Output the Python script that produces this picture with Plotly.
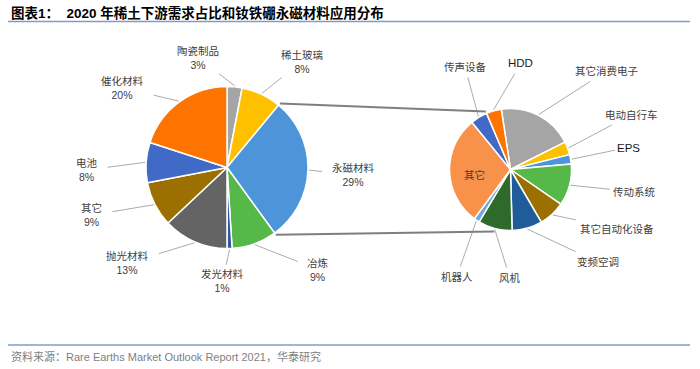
import math
import plotly.graph_objects as go

W, H = 700, 369

# ---------------- data ----------------
left_labels = ["陶瓷制品", "稀土玻璃", "永磁材料", "冶炼", "发光材料",
               "抛光材料", "其它", "电池", "催化材料"]
left_values = [3, 8, 29, 9, 1, 13, 9, 8, 20]

right_labels = ["其它消费电子", "电动自行车", "EPS", "传动系统", "其它自动化设备",
                "变频空调", "风机", "机器人", "其它", "传声设备", "HDD"]
right_values = [20, 3.5, 2.5, 11, 7, 8, 9, 1.5, 29, 4.5, 4]

title_text = "图表1：  2020 年稀土下游需求占比和钕铁硼永磁材料应用分布"
source_text = "资料来源：Rare Earths Market Outlook Report 2021，华泰研究"

# ---------------- style ----------------
left_colors = ["#A5A5A5", "#FFC000", "#4D94D8", "#55B848", "#2F55A0",
               "#646464", "#9C7000", "#4169C6", "#FF7300"]
right_colors = ["#A5A5A5", "#FFC000", "#4D94D8", "#55B848", "#9C7000",
                "#1F5C99", "#2E6B2B", "#6FA8DC", "#F8914A", "#4169C6", "#FF7300"]

FONT = "Liberation Sans, Arial, Noto Sans CJK SC, sans-serif"
LABEL_COLOR = "#404040"
LEADER_COLOR = "#ABABAB"
RULE_COLOR = "#7F9CC9"

left_geom = dict(cx=227, cy=167.5, r=81, rotation=0)
right_geom = dict(cx=510.5, cy=169.5, r=61, rotation=-8.7)

# label placement (angle shift from slice middle in degrees, distance in radii)
left_label_shift = [-20, 10, 1.6, -22, 4, 22.6, 7.6, -4.6, -16.6]
left_label_dist = [1.40, 1.60, 1.56, 1.69, 1.40, 1.70, 1.77, 1.73, 1.62]
right_label_shift = [17, -4, -1, -4.5, -18, -27.5, -14.4, -7, -7, 7.3, 21.5]
right_label_dist = [2.26, 2.18, 1.96, 2.07, 1.99, 2.09, 1.78, 1.97, 0.6, 1.84, 1.75]
right_inside = [False] * 8 + [True] + [False] * 2

FS = 10.5


def px(x):
    return x / W


def py(y):
    return 1 - y / H


def polar(g, ang, dist):
    a = math.radians(ang)
    return g["cx"] + dist * math.sin(a), g["cy"] - dist * math.cos(a)


def mid_angles(values, rot):
    tot = sum(values)
    out, cum = [], 0
    for v in values:
        out.append(rot + (cum + v / 2) / tot * 360)
        cum += v
    return out


def bound_angles(values, rot):
    tot = sum(values)
    out, cum = [rot], 0
    for v in values:
        cum += v
        out.append(rot + cum / tot * 360)
    return out


def text_w(s, fs):
    return sum(fs if ord(c) > 255 else 0.58 * fs for c in s)


fig = go.Figure()


def add_pie(g, labels, values, colors):
    r = g["r"]
    fig.add_trace(go.Pie(
        labels=labels, values=values, sort=False, direction="clockwise",
        rotation=g["rotation"], textinfo="none", hoverinfo="label+percent",
        marker=dict(colors=colors, line=dict(color="white", width=1.5)),
        domain=dict(x=[px(g["cx"] - r), px(g["cx"] + r)],
                    y=[py(g["cy"] + r), py(g["cy"] - r)]),
        showlegend=False,
    ))


add_pie(left_geom, left_labels, left_values, left_colors)
add_pie(right_geom, right_labels, right_values, right_colors)

shapes = []
annotations = []


def leader(g, ang, lx, ly, w, h, padx=6, pady=4):
    x0, y0 = polar(g, ang, g["r"] + 1)
    dx, dy = x0 - lx, y0 - ly
    hw, hh = w / 2 + padx, h / 2 + pady
    ts = []
    if abs(dx) > 1e-6:
        ts.append(hw / abs(dx))
    if abs(dy) > 1e-6:
        ts.append(hh / abs(dy))
    t = min(ts)
    if t >= 1:
        return
    x1, y1 = lx + t * dx, ly + t * dy
    shapes.append(dict(type="line", xref="paper", yref="paper",
                       x0=px(x0), y0=py(y0), x1=px(x1), y1=py(y1),
                       line=dict(color=LEADER_COLOR, width=1)))


# left labels
for lab, val, ang, sh, d in zip(left_labels, left_values,
                                mid_angles(left_values, left_geom["rotation"]),
                                left_label_shift, left_label_dist):
    lx, ly = polar(left_geom, ang + sh, left_geom["r"] * d)
    txt = f"{lab}<br>{val}%"
    w = max(text_w(lab, FS), text_w(f"{val}%", 11))
    h = 2 * 13
    annotations.append(dict(x=px(lx), y=py(ly), xref="paper", yref="paper",
                            text=txt, showarrow=False, xanchor="center", yanchor="middle",
                            font=dict(family=FONT, size=FS, color=LABEL_COLOR)))
    leader(left_geom, ang, lx, ly, w, h, padx=10, pady=3)

# right labels
for lab, ang, sh, d, ins in zip(right_labels,
                                mid_angles(right_values, right_geom["rotation"]),
                                right_label_shift, right_label_dist, right_inside):
    lx, ly = polar(right_geom, ang + sh, right_geom["r"] * d)
    ascii_lab = all(ord(c) < 256 for c in lab)
    annotations.append(dict(x=px(lx), y=py(ly), xref="paper", yref="paper",
                            text=lab, showarrow=False, xanchor="center", yanchor="middle",
                            font=dict(family=FONT, size=11.5 if ascii_lab else FS,
                                      color="#1A1A1A" if ascii_lab else LABEL_COLOR)))
    if not ins:
        leader(right_geom, ang, lx, ly, text_w(lab, FS), 13, padx=4, pady=4)

# connector lines between the two pies
lb = bound_angles(left_values, left_geom["rotation"])
mag = left_labels.index("永磁材料")
rb = bound_angles(right_values, right_geom["rotation"])
top_right_ang = rb[right_labels.index("HDD")]
bot_right_ang = mid_angles(right_values, right_geom["rotation"])[right_labels.index("风机")]
for la, ra, rr in ((lb[mag], top_right_ang, 2), (lb[mag + 1], bot_right_ang, 3)):
    x0, y0 = polar(left_geom, la, left_geom["r"] + 2)
    x1, y1 = polar(right_geom, ra, right_geom["r"] + rr)
    shapes.append(dict(type="line", xref="paper", yref="paper",
                       x0=px(x0), y0=py(y0), x1=px(x1), y1=py(y1),
                       line=dict(color="#7F7F7F", width=2)))

# title, rules and source
annotations.append(dict(x=px(9), y=py(12.5), xref="paper", yref="paper",
                        text=f"<b>{title_text}</b>", showarrow=False,
                        xanchor="left", yanchor="middle",
                        font=dict(family="Liberation Sans, Noto Sans CJK SC, sans-serif",
                                  size=13.5, color="#000000")))
annotations.append(dict(x=px(9), y=py(356), xref="paper", yref="paper",
                        text=source_text, showarrow=False,
                        xanchor="left", yanchor="middle",
                        font=dict(family=FONT, size=11, color="#7F7F7F")))
for yy in (21.5, 345):
    shapes.append(dict(type="line", xref="paper", yref="paper",
                       x0=px(8), x1=px(690), y0=py(yy), y1=py(yy),
                       line=dict(color=RULE_COLOR, width=1.5)))

fig.update_layout(
    width=W, height=H,
    margin=dict(l=0, r=0, t=0, b=0),
    paper_bgcolor="white", plot_bgcolor="white",
    shapes=shapes, annotations=annotations,
    font=dict(family=FONT),
)

# remove the browser's default 8px body margin so the figure fills the window
fig.write_html("out.html",
               config={"displayModeBar": False},
               post_script="document.body.style.margin='0px';"
                           "document.body.style.overflow='hidden';")
